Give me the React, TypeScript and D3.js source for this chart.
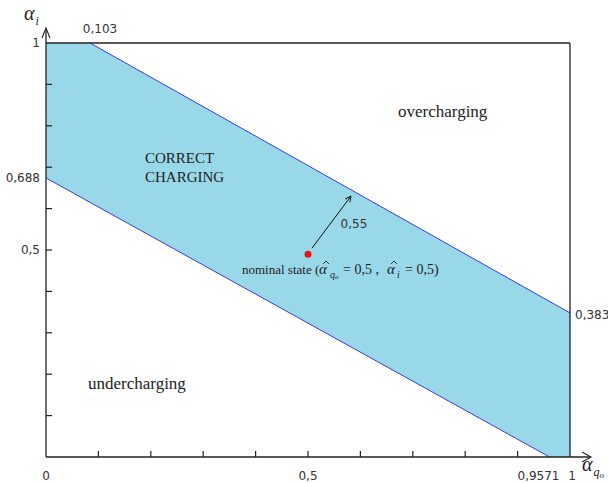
import React from "react";
import * as d3 from "d3";

// boundary lines of the correct-charging band (alpha_qo, alpha_i)
const upperBoundary = [
  { q: 0.084, i: 1 },
  { q: 1, i: 0.348 },
];
const lowerBoundary = [
  { q: 0, i: 0.674 },
  { q: 0.961, i: 0 },
];
const nominalPoint = { q: 0.5, i: 0.49 };
const arrowEnd = { q: 0.582, i: 0.63 };

const minorTicks = [0.1, 0.2, 0.3, 0.4, 0.5, 0.6, 0.7, 0.8, 0.9];
const xTickLabels = [
  { v: 0, t: "0", dx: 0 },
  { v: 0.5, t: "0,5", dx: 0 },
  { v: 0.9571, t: "0,9571", dx: -9 },
  { v: 1, t: "1", dx: 2 },
];
const yTickLabels = [
  { v: 1, t: "1" },
  { v: 0.674, t: "0,688" },
  { v: 0.5, t: "0,5" },
];

const W = 608;
const H = 483;

const App = () => {
  const x = d3.scaleLinear().domain([0, 1]).range([46, 570]);
  const y = d3.scaleLinear().domain([0, 1]).range([457, 43]);

  const band: [number, number][] = [
    [0, 1],
    [upperBoundary[0].q, upperBoundary[0].i],
    [upperBoundary[1].q, upperBoundary[1].i],
    [1, 0],
    [lowerBoundary[1].q, lowerBoundary[1].i],
    [lowerBoundary[0].q, lowerBoundary[0].i],
  ];
  const area = d3
    .line<[number, number]>()
    .x((d) => x(d[0]))
    .y((d) => y(d[1]));

  const tickFont = "Tahoma, 'DejaVu Sans', sans-serif";
  const serif = "'Liberation Serif', 'DejaVu Serif', serif";
  const ink = "#333";
  const axis = "#222";

  // nominal-state label pieces
  const nx = 242;
  const ny = 274;
  const hat = (cx: number) =>
    `M${cx - 3},${ny - 10} L${cx},${ny - 13} L${cx + 3},${ny - 10}`;

  return (
    <svg
      width={W}
      height={H}
      style={{ position: "absolute", left: 0, top: 0, background: "#fff" }}
    >
      <defs>
        <marker
          id="arr"
          viewBox="0 0 10 10"
          refX="9"
          refY="5"
          markerWidth="7"
          markerHeight="7"
          orient="auto"
        >
          <path d="M1,1 L9,5 L1,9" fill="none" stroke="#111" strokeWidth="1.3" />
        </marker>
      </defs>

      <path d={area(band) + "Z"} fill="#99d8e9" stroke="none" />

      <line
        x1={x(upperBoundary[0].q)}
        y1={y(upperBoundary[0].i)}
        x2={x(upperBoundary[1].q)}
        y2={y(upperBoundary[1].i)}
        stroke="#3b3bd0"
        strokeWidth={1}
      />
      <line
        x1={x(lowerBoundary[0].q)}
        y1={y(lowerBoundary[0].i)}
        x2={x(lowerBoundary[1].q)}
        y2={y(lowerBoundary[1].i)}
        stroke="#3b3bd0"
        strokeWidth={1}
      />

      {/* frame */}
      <line x1={x(0)} y1={y(1)} x2={x(1)} y2={y(1)} stroke={axis} strokeWidth={1.3} />
      <line x1={x(1)} y1={y(1)} x2={x(1)} y2={y(0)} stroke={axis} strokeWidth={1.3} />

      {/* axes with arrows */}
      <line x1={x(0)} y1={y(0)} x2={x(0)} y2={y(1) - 14} stroke={axis} strokeWidth={1.3} />
      <path
        d={`M${x(0) - 4},${y(1) - 5} L${x(0)},${y(1) - 15} L${x(0) + 4},${y(1) - 5}`}
        fill="none"
        stroke={axis}
        strokeWidth={1.1}
      />
      <line x1={x(0)} y1={y(0)} x2={x(1) + 20} y2={y(0)} stroke={axis} strokeWidth={1.3} />
      <path
        d={`M${x(1) + 12},${y(0) - 5} L${x(1) + 21},${y(0)} L${x(1) + 12},${y(0) + 5}`}
        fill="none"
        stroke={axis}
        strokeWidth={1.1}
      />

      {minorTicks.map((t) => (
        <g key={t}>
          <line x1={x(t)} y1={y(0)} x2={x(t)} y2={y(0) - 6} stroke={axis} strokeWidth={1.2} />
          <line x1={x(0)} y1={y(t)} x2={x(0) + 6} y2={y(t)} stroke={axis} strokeWidth={1.2} />
        </g>
      ))}

      <g fontFamily={tickFont} fontSize={12} fill={ink}>
        {xTickLabels.map((d) => (
          <text key={d.t} x={x(d.v) + d.dx} y={y(0) + 23} textAnchor="middle">
            {d.t}
          </text>
        ))}
        {yTickLabels.map((d) => (
          <text key={d.t} x={x(0) - 6} y={y(d.v) + 4} textAnchor="end">
            {d.t}
          </text>
        ))}
        <text x={x(upperBoundary[0].q) + 10} y={y(1) - 10} textAnchor="middle">
          0,103
        </text>
        <text x={x(1) + 5} y={y(upperBoundary[1].i) + 6}>
          0,383
        </text>
        <text x={x(arrowEnd.q) + 3} y={y(0.565) + 5} textAnchor="middle">
          0,55
        </text>
      </g>

      {/* axis titles */}
      <text x={24} y={20} fontFamily={serif} fontStyle="italic" fontSize={20} fill="#222">
        α
        <tspan fontSize={12} dy={5} dx={1}>
          i
        </tspan>
      </text>
      <text x={582} y={471} fontFamily={serif} fontStyle="italic" fontSize={20} fill="#222">
        α
        <tspan fontSize={12} dy={5} dx={1}>
          q
        </tspan>
        <tspan fontSize={9} dy={2}>
          o
        </tspan>
      </text>

      {/* region labels */}
      <g fontFamily={serif} fill="#222">
        <text x={398} y={117} fontSize={17}>
          overcharging
        </text>
        <text x={88} y={389} fontSize={17}>
          undercharging
        </text>
        <text x={145} y={163} fontSize={15}>
          CORRECT
        </text>
        <text x={145} y={182} fontSize={15}>
          CHARGING
        </text>
      </g>

      {/* nominal state */}
      <line
        x1={x(nominalPoint.q) + 4}
        y1={y(nominalPoint.i) - 6}
        x2={x(arrowEnd.q)}
        y2={y(arrowEnd.i)}
        stroke="#111"
        strokeWidth={1}
        markerEnd="url(#arr)"
      />
      <circle cx={x(nominalPoint.q)} cy={y(nominalPoint.i)} r={3.5} fill="#e8141c" />
      <g fontFamily={serif} fill="#222">
        <text x={nx} y={ny} fontSize={13}>
          nominal state (
        </text>
        <text x={nx + 77} y={ny} fontSize={15} fontStyle="italic">
          α
        </text>
        <text x={nx + 88} y={ny + 4} fontSize={10} fontStyle="italic">
          q
          <tspan fontSize={7} dy={1}>
            o
          </tspan>
        </text>
        <text x={nx + 101} y={ny} fontSize={14}>
          = 0,5 ,
        </text>
        <text x={nx + 145} y={ny} fontSize={15} fontStyle="italic">
          α
        </text>
        <text x={nx + 155} y={ny + 4} fontSize={10} fontStyle="italic">
          i
        </text>
        <text x={nx + 163} y={ny} fontSize={14}>
          = 0,5)
        </text>
      </g>
      <path d={hat(nx + 84)} fill="none" stroke="#222" strokeWidth={0.9} />
      <path d={hat(nx + 152)} fill="none" stroke="#222" strokeWidth={0.9} />
    </svg>
  );
};

export default App;
